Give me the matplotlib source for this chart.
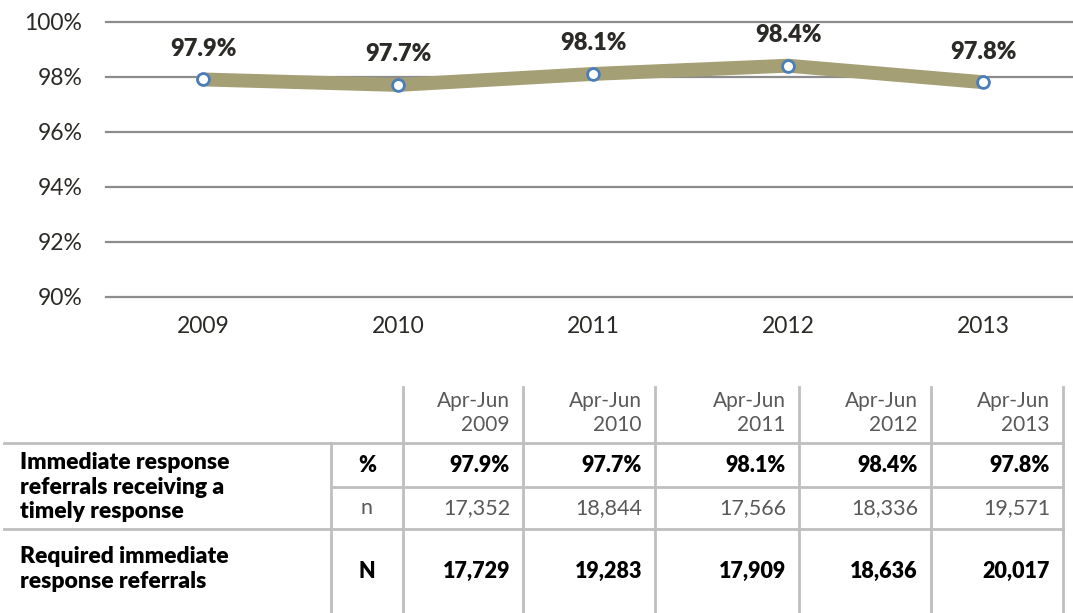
import matplotlib
matplotlib.use("Agg")
import matplotlib.pyplot as plt
from matplotlib.lines import Line2D

plt.rcParams['font.family'] = ['Lato', 'DejaVu Sans']

years = ["2009", "2010", "2011", "2012", "2013"]
pct = [97.9, 97.7, 98.1, 98.4, 97.8]
n_timely = [17352, 18844, 17566, 18336, 19571]
N_required = [17729, 19283, 17909, 18636, 20017]
col_headers = ["Apr-Jun\n" + y for y in years]
row1_label = "Immediate response\nreferrals receiving a\ntimely response"
row2_label = "Required immediate\nresponse referrals"
yticks = [90, 92, 94, 96, 98, 100]

W, H = 1073, 613
fig = plt.figure(figsize=(W / 100, H / 100), dpi=100)

TXT = "#2b2a26"
GRID = "#8c8c8c"
LINEC = "#a59f75"
MARKE = "#4a7ebb"
TBL = "#bfbfbf"
GRAY = "#595959"
BOLD = 'heavy'

# chart axes
ax_l, ax_r, ax_t, ax_b = 106, 1073, 21.7, 296.7
ax = fig.add_axes([ax_l / W, 1 - ax_b / H, (ax_r - ax_l) / W, (ax_b - ax_t) / H])
xs = list(range(len(years)))
ax.set_ylim(90, 100)
ax.set_xlim(-97 / 195, (1073 - 203) / 195)
for v in yticks:
    ax.axhline(v, color=GRID, lw=1.6, zorder=1, clip_on=False)
ax.plot(xs, pct, color=LINEC, lw=10, solid_capstyle='round', solid_joinstyle='round', zorder=2)
ax.plot(xs, pct, ls='none', marker='o', ms=8.5, mfc='white', mec=MARKE, mew=2, zorder=3)
for x, v in zip(xs, pct):
    ax.annotate(f"{v:.1f}%", (x, v), xytext=(0, 22), textcoords='offset points',
                ha='center', va='center', fontsize=17, fontweight=BOLD, color=TXT)
ax.set_yticks(yticks)
ax.set_yticklabels([f"{v}%" for v in yticks])
ax.set_xticks(xs)
ax.set_xticklabels(years)
ax.tick_params(axis='y', length=0, pad=17, labelsize=16.5, labelcolor=TXT)
ax.tick_params(axis='x', length=0, pad=14, labelsize=16.5, labelcolor=TXT)
for s in ax.spines.values():
    s.set_visible(False)

# table drawn in figure pixel coordinates
def fx(x):
    return x / W

def fy(y):
    return 1 - y / H

def hline(y, x0, x1):
    fig.add_artist(Line2D([fx(x0), fx(x1)], [fy(y), fy(y)], color=TBL, lw=2, transform=fig.transFigure))

def vline(x, y0, y1):
    fig.add_artist(Line2D([fx(x), fx(x)], [fy(y0), fy(y1)], color=TBL, lw=2, transform=fig.transFigure))

col_lines = [403, 523, 655, 799, 931, 1063]
hline(443, 4, 1063)
hline(487, 331, 1063)
hline(529, 4, 1063)
vline(331, 443, 613)
for x in col_lines:
    vline(x, 387, 613)

for i, h in enumerate(col_headers):
    xr = col_lines[i + 1] - 13
    fig.text(fx(xr), fy(413), h, ha='right', va='center', fontsize=15, color=GRAY,
             linespacing=1.3)
    fig.text(fx(xr), fy(465), f"{pct[i]:.1f}%", ha='right', va='center', fontsize=15.5,
             fontweight=BOLD, color='black')
    fig.text(fx(xr), fy(508), f"{n_timely[i]:,}", ha='right', va='center', fontsize=15.5,
             color=GRAY)
    fig.text(fx(xr), fy(571), f"{N_required[i]:,}", ha='right', va='center', fontsize=15.5,
             fontweight=BOLD, color='black')

sym_x = (331 + 403) / 2
fig.text(fx(sym_x), fy(465), "%", ha='center', va='center', fontsize=15.5, fontweight=BOLD, color='black')
fig.text(fx(sym_x), fy(508), "n", ha='center', va='center', fontsize=15.5, color=GRAY)
fig.text(fx(sym_x), fy(571), "N", ha='center', va='center', fontsize=15.5, fontweight=BOLD, color='black')

fig.text(fx(20), fy(487), row1_label, ha='left', va='center', fontsize=16.5, fontweight=BOLD,
         color='black', linespacing=1.22)
fig.text(fx(20), fy(569), row2_label, ha='left', va='center', fontsize=16.5, fontweight=BOLD,
         color='black', linespacing=1.22)

fig.savefig("out.png", dpi=100)
